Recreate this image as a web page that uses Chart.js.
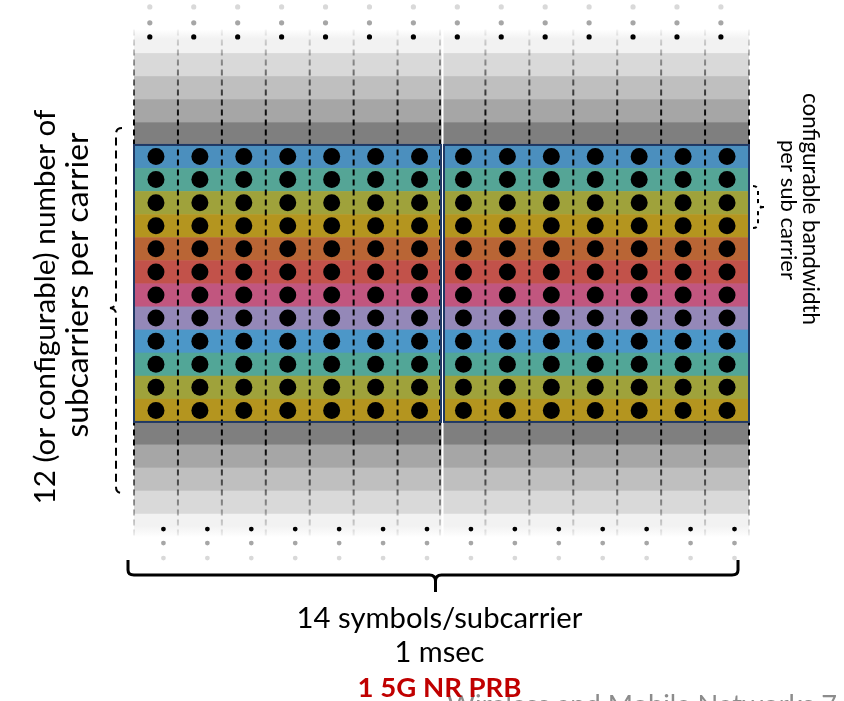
<!DOCTYPE html>
<html>
<head>
<meta charset="utf-8">
<script src="https://cdn.jsdelivr.net/npm/chart.js@4.4.1/dist/chart.umd.min.js"></script>
<style>
  html, body { margin: 0; padding: 0; background: #fff; }
</style>
</head>
<body>
<canvas id="prb" width="844" height="701"></canvas>
<script>
// one PRB: 14 symbols x 12 subcarriers
var symbols = [1, 2, 3, 4, 5, 6, 7, 8, 9, 10, 11, 12, 13, 14];
var subcarriers = [1, 2, 3, 4, 5, 6, 7, 8, 9, 10, 11, 12];
var subcarrierColors = ["#4b8fbe", "#55a596", "#9fa23b", "#b4951f", "#b96535", "#c2524a",
                        "#c1567f", "#9488b8", "#4c97c8", "#52a697", "#9fa23b", "#b4951f"];
// neighbouring subcarriers (greyed out), nearest first
var bandsAbove = ["#7f7f7f", "#a6a6a6", "#bfbfbf", "#d9d9d9", "#f2f2f2"];
var bandsBelow = ["#7f7f7f", "#a6a6a6", "#bfbfbf", "#d9d9d9", "#f2f2f2"];
// "..." dots outside the block (row position, colour)
var dotsAboveRows = [-4.68, -5.29, -5.98];
var dotsBelowRows = [16.64, 17.25, 17.9];
var dotColors = ["#000000", "#a6a6a6", "#d9d9d9"];

var leftLabel = ["12 (or configurable) number of", "subcarriers per carrier"];
var rightLabel = ["configurable bandwidth", "per sub carrier"];
var bottomLabel = ["14 symbols/subcarrier", "1 msec"];
var prbLabel = "1 5G NR PRB";
var footer = "Wireless and Mobile Networks 7";

var FONT = "Lato, 'Open Sans', sans-serif";

function cellPoints() {
    var pts = [];
    subcarriers.forEach(function (r) {
        symbols.forEach(function (s) {
            pts.push({x: s - 0.5, y: r - 0.5});
        });
    });
    return pts;
}

function rowDots(row, dx) {
    return symbols.map(function (s) { return {x: s - 0.5 + dx, y: row}; });
}

var datasets = [{
    data: cellPoints(),
    pointRadius: 8.5,
    backgroundColor: "#000",
    borderWidth: 0,
    clip: false
}];
dotsAboveRows.forEach(function (row, i) {
    datasets.push({data: rowDots(row, -0.14), pointRadius: 2.6, backgroundColor: dotColors[i], borderWidth: 0, clip: false});
});
dotsBelowRows.forEach(function (row, i) {
    datasets.push({data: rowDots(row, 0.17), pointRadius: 2.4, backgroundColor: dotColors[i], borderWidth: 0, clip: false});
});

function fitFont(ctx, text, width, weight) {
    ctx.font = weight + " 100px " + FONT;
    var size = 100 * width / ctx.measureText(text).width;
    ctx.font = weight + " " + size.toFixed(2) + "px " + FONT;
}

var gridPlugin = {
    id: "grid",
    beforeDatasetsDraw: function (chart) {
        var ctx = chart.ctx, xs = chart.scales.x, ys = chart.scales.y;
        var x0 = xs.getPixelForValue(0), x1 = xs.getPixelForValue(symbols.length);
        var n = subcarriers.length;
        ctx.save();
        // grey bands
        bandsAbove.forEach(function (c, k) {
            var ya = ys.getPixelForValue(-k - 1), yb = ys.getPixelForValue(-k);
            ctx.fillStyle = c;
            if (k === bandsAbove.length - 1) {
                var g = ctx.createLinearGradient(0, ya, 0, yb);
                g.addColorStop(0, "#ffffff");
                g.addColorStop(0.4, c);
                g.addColorStop(1, c);
                ctx.fillStyle = g;
            }
            ctx.fillRect(x0, ya, x1 - x0, yb - ya + 0.5);
        });
        bandsBelow.forEach(function (c, k) {
            var ya = ys.getPixelForValue(n + k), yb = ys.getPixelForValue(n + k + 1);
            ctx.fillStyle = c;
            if (k === bandsBelow.length - 1) {
                var g = ctx.createLinearGradient(0, ya, 0, yb);
                g.addColorStop(0, c);
                g.addColorStop(0.5, c);
                g.addColorStop(1, "#ffffff");
                ctx.fillStyle = g;
            }
            ctx.fillRect(x0, ya - 0.5, x1 - x0, yb - ya + 0.5);
        });
        // subcarrier rows
        subcarrierColors.forEach(function (c, r) {
            var ya = ys.getPixelForValue(r), yb = ys.getPixelForValue(r + 1);
            ctx.fillStyle = c;
            ctx.fillRect(x0, ya, x1 - x0, yb - ya + 0.5);
        });
        // dashed symbol boundaries, fading out in the grey bands
        var yTop = ys.getPixelForValue(-bandsAbove.length), yBot = ys.getPixelForValue(n + bandsBelow.length);
        var grad = ctx.createLinearGradient(0, yTop, 0, yBot);
        grad.addColorStop(0, "rgba(0,0,0,0.04)");
        grad.addColorStop((ys.getPixelForValue(-1) - yTop) / (yBot - yTop), "rgba(0,0,0,1)");
        grad.addColorStop((ys.getPixelForValue(n + 1) - yTop) / (yBot - yTop), "rgba(0,0,0,1)");
        grad.addColorStop(1, "rgba(0,0,0,0.04)");
        ctx.strokeStyle = grad;
        ctx.lineWidth = 2;
        ctx.setLineDash([6, 4]);
        for (var i = 0; i <= symbols.length; i++) {
            var xp = xs.getPixelForValue(i);
            if (i === 7) xp -= 1.5;
            ctx.beginPath();
            ctx.moveTo(xp, yTop);
            ctx.lineTo(xp, yBot);
            ctx.stroke();
        }
        ctx.setLineDash([]);
        // white slot separator
        var xm = xs.getPixelForValue(7) + 1;
        ctx.strokeStyle = "#ffffff";
        ctx.lineWidth = 2;
        ctx.beginPath();
        ctx.moveTo(xm, yTop);
        ctx.lineTo(xm, yBot);
        ctx.stroke();
        // outlines of the two halves
        var ya = ys.getPixelForValue(0), yb = ys.getPixelForValue(n);
        ctx.strokeStyle = "#1f3864";
        ctx.lineWidth = 2;
        ctx.strokeRect(x0, ya, xm - 1.5 - x0, yb - ya);
        ctx.strokeRect(xm + 1.5, ya, x1 - xm - 1.5, yb - ya);
        ctx.restore();
    },
    afterDraw: function (chart) {
        var ctx = chart.ctx, xs = chart.scales.x, ys = chart.scales.y;
        var x0 = xs.getPixelForValue(0), x1 = xs.getPixelForValue(symbols.length);
        var cx = xs.getPixelForValue(symbols.length / 2) - 2;
        ctx.save();
        ctx.fillStyle = "#000";
        ctx.strokeStyle = "#000";

        // bottom brace over the 14 symbols
        ctx.lineWidth = 3;
        ctx.beginPath();
        ctx.moveTo(x0 - 6, 560);
        ctx.lineTo(x0 - 6, 570);
        ctx.quadraticCurveTo(x0 - 6, 575, x0, 575);
        ctx.lineTo(cx - 10, 575);
        ctx.quadraticCurveTo(cx - 4, 575, cx - 4, 581);
        ctx.lineTo(cx - 4, 592);
        ctx.moveTo(cx - 4, 581);
        ctx.quadraticCurveTo(cx - 4, 575, cx + 2, 575);
        ctx.lineTo(x1 - 17, 575);
        ctx.quadraticCurveTo(x1 - 11, 575, x1 - 11, 570);
        ctx.lineTo(x1 - 11, 560);
        ctx.stroke();

        // left dashed brace over the 12 subcarriers
        ctx.lineWidth = 2;
        ctx.setLineDash([8, 5]);
        ctx.beginPath();
        ctx.moveTo(122, 128);
        ctx.quadraticCurveTo(116, 128, 116, 134);
        ctx.lineTo(116, 302);
        ctx.quadraticCurveTo(116, 307, 110, 308);
        ctx.moveTo(110, 308);
        ctx.quadraticCurveTo(116, 309, 116, 314);
        ctx.lineTo(116, 487);
        ctx.quadraticCurveTo(116, 493, 122, 493);
        ctx.stroke();

        // right small dashed brace (one subcarrier width)
        ctx.setLineDash([4, 4]);
        ctx.beginPath();
        ctx.moveTo(753, 186);
        ctx.quadraticCurveTo(758, 186, 758, 191);
        ctx.lineTo(758, 203);
        ctx.quadraticCurveTo(758, 207, 764, 207);
        ctx.moveTo(764, 207);
        ctx.quadraticCurveTo(758, 207, 758, 212);
        ctx.lineTo(758, 224);
        ctx.quadraticCurveTo(758, 228, 753, 228);
        ctx.stroke();
        ctx.setLineDash([]);

        // bottom labels
        ctx.textAlign = "center";
        ctx.textBaseline = "alphabetic";
        fitFont(ctx, bottomLabel[0], 286, "normal");
        ctx.fillText(bottomLabel[0], cx, 628);
        fitFont(ctx, bottomLabel[1], 90, "normal");
        ctx.fillText(bottomLabel[1], cx, 662);

        // footer (partly hidden behind the PRB label)
        ctx.textAlign = "left";
        ctx.fillStyle = "#8c8c8c";
        fitFont(ctx, footer, 390, "normal");
        ctx.fillText(footer, 447, 714);

        ctx.textAlign = "center";
        ctx.fillStyle = "#c00000";
        fitFont(ctx, prbLabel, 164, "bold");
        ctx.fillText(prbLabel, cx, 697);

        // left rotated label
        ctx.fillStyle = "#000";
        var left = [[55, 307, 395], [88, 285, 305]];
        leftLabel.forEach(function (t, i) {
            ctx.save();
            ctx.translate(left[i][0], left[i][1]);
            ctx.rotate(-Math.PI / 2);
            fitFont(ctx, t, left[i][2], "normal");
            ctx.fillText(t, 0, 0);
            ctx.restore();
        });

        // right rotated label
        var right = [[803, 209, 232], [781, 210, 140]];
        rightLabel.forEach(function (t, i) {
            ctx.save();
            ctx.translate(right[i][0], right[i][1]);
            ctx.rotate(Math.PI / 2);
            fitFont(ctx, t, right[i][2], "normal");
            ctx.fillText(t, 0, 0);
            ctx.restore();
        });
        ctx.restore();
    }
};

new Chart(document.getElementById("prb"), {
    type: "scatter",
    data: {datasets: datasets},
    options: {
        responsive: false,
        animation: false,
        events: [],
        layout: {autoPadding: false, padding: {left: 134, right: 95, top: 0, bottom: 0}},
        scales: {
            x: {type: "linear", min: 0, max: symbols.length, display: false},
            y: {type: "linear", min: -6.28, max: 24.09, reverse: true, display: false}
        },
        plugins: {legend: {display: false}, tooltip: {enabled: false}}
    },
    plugins: [gridPlugin]
});
</script>
</body>
</html>
